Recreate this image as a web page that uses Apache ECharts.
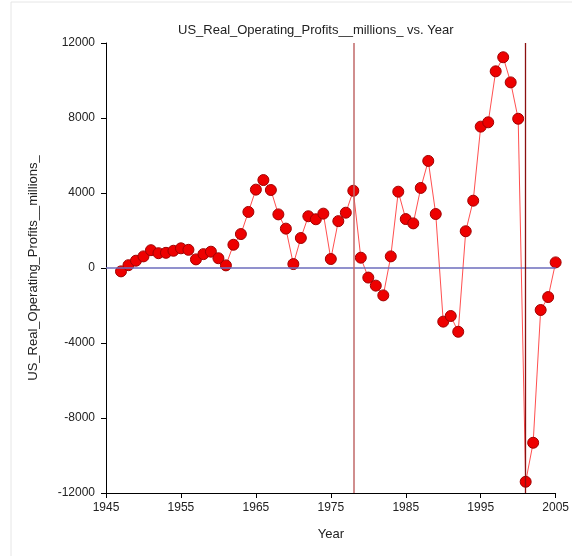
<!DOCTYPE html>
<html>
<head>
<meta charset="utf-8">
<script src="https://cdn.jsdelivr.net/npm/echarts@6/dist/echarts.min.js"></script>
<style>
	html, body { margin: 0; padding: 0; background: #fff; }
	#main { width: 572px; height: 556px; }
</style>
</head>
<body>
<div id="main"></div>
<script>
var years = [1947, 1948, 1949, 1950, 1951, 1952, 1953, 1954, 1955, 1956,
	1957, 1958, 1959, 1960, 1961, 1962, 1963, 1964, 1965, 1966,
	1967, 1968, 1969, 1970, 1971, 1972, 1973, 1974, 1975, 1976,
	1977, 1978, 1979, 1980, 1981, 1982, 1983, 1984, 1985, 1986,
	1987, 1988, 1989, 1990, 1991, 1992, 1993, 1994, 1995, 1996,
	1997, 1998, 1999, 2000, 2001, 2002, 2003, 2004, 2005];

var profits = [-180, 150, 390, 620, 950, 790, 810, 920, 1050, 970,
	460, 740, 870, 520, 140, 1240, 1810, 2990, 4180, 4690,
	4160, 2860, 2100, 210, 1600, 2760, 2600, 2900, 480, 2500,
	2950, 4120, 550, -510, -940, -1460, 620, 4070, 2610, 2380,
	4270, 5710, 2880, -2860, -2560, -3400, 1960, 3590, 7540, 7770,
	10490, 11240, 9900, 7960, -11400, -9320, -2240, -1550, 300];

var xTicks = [1945, 1955, 1965, 1975, 1985, 1995, 2005];
var yTicks = [-12000, -8000, -4000, 0, 4000, 8000, 12000];
var markYears = [1978, 2001];

var points = [];
for (var i = 0; i < years.length; i++) {
	points.push([years[i], profits[i]]);
}

// plain numbers, no thousands separators
function plain(v) {
	return String(v);
}

var txt = { fontFamily: 'Liberation Sans', fontSize: 12, color: '#222' };

var chart = echarts.init(document.getElementById('main'), null, { renderer: 'canvas' });

chart.setOption({
	animation: false,
	graphic: [{
		type: 'rect',
		shape: { x: 11, y: 2, width: 700, height: 700 },
		style: { fill: 'none', stroke: '#e6e6e6', lineWidth: 1 },
		silent: true
	}],
	title: {
		text: 'US_Real_Operating_Profits__millions_ vs. Year',
		left: 173,
		top: 19,
		textStyle: { fontFamily: 'Liberation Sans', fontSize: 13, fontWeight: 'normal', color: '#222' }
	},
	grid: { left: 106, right: 15, top: 43, bottom: 63 },
	xAxis: {
		type: 'value',
		min: xTicks[0],
		max: xTicks[xTicks.length - 1],
		interval: 10,
		name: 'Year',
		nameLocation: 'middle',
		nameGap: 35,
		nameTextStyle: { fontFamily: 'Liberation Sans', fontSize: 13, color: '#222' },
		axisLine: { onZero: false, lineStyle: { color: '#000', width: 1 } },
		axisTick: { length: 5, lineStyle: { color: '#000' } },
		axisLabel: { margin: 9, formatter: plain, fontFamily: txt.fontFamily, fontSize: txt.fontSize, color: txt.color },
		splitLine: { show: false }
	},
	yAxis: {
		type: 'value',
		min: yTicks[0],
		max: yTicks[yTicks.length - 1],
		interval: 4000,
		name: 'US_Real_Operating_Profits__millions_',
		nameLocation: 'middle',
		nameGap: 66,
		nameTextStyle: { fontFamily: 'Liberation Sans', fontSize: 13, color: '#222' },
		axisLine: { show: true, onZero: false, lineStyle: { color: '#000', width: 1 } },
		axisTick: { show: true, length: 5, lineStyle: { color: '#000' } },
		axisLabel: { margin: 11, formatter: plain, fontFamily: txt.fontFamily, fontSize: txt.fontSize, color: txt.color },
		splitLine: { show: false }
	},
	series: [{
		type: 'line',
		data: points,
		symbol: 'circle',
		symbolSize: 11,
		lineStyle: { color: '#ff3030', width: 1, opacity: 0.85 },
		itemStyle: { color: '#ee0000', borderColor: '#a00000', borderWidth: 1 },
		markLine: {
			silent: true,
			symbol: ['none', 'none'],
			label: { show: false },
			data: [
				{ yAxis: 0, lineStyle: { color: '#6c6cbc', width: 1.5, type: 'solid' } },
				{ xAxis: markYears[0], lineStyle: { color: '#c06868', width: 1.5, type: 'solid' } },
				{ xAxis: markYears[1], lineStyle: { color: '#8b1010', width: 1.3, type: 'solid' } }
			]
		},
		z: 3
	}]
});
</script>
</body>
</html>
